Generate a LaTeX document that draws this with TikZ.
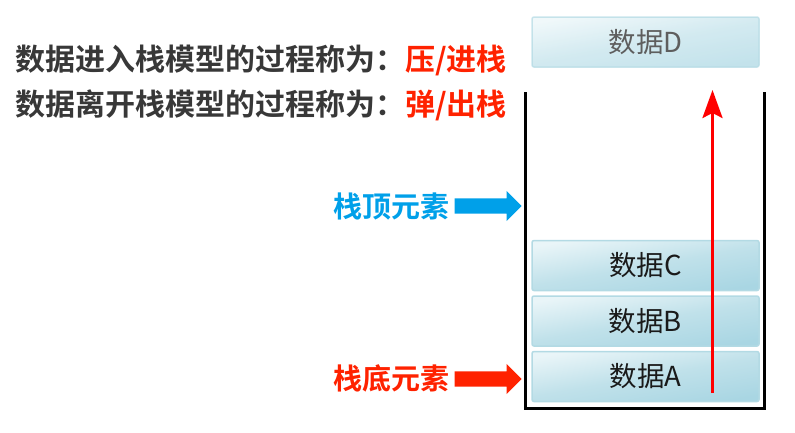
\documentclass[tikz,border=0pt]{standalone}
\usepackage{fontspec}
\setmainfont{Noto Sans CJK SC}[BoldFont={Noto Sans CJK SC Bold}]
\usetikzlibrary{shapes.arrows,arrows.meta}
\definecolor{tipblue}{HTML}{00A0E9}
\definecolor{hotred}{HTML}{FF2200}
\definecolor{popred}{HTML}{FF0000}
\definecolor{headgray}{HTML}{383838}
\definecolor{boxlight}{HTML}{E9F5F8}
\definecolor{boxmid}{HTML}{C0E1EA}
\definecolor{boxdark}{HTML}{A9D6E3}
\definecolor{boxedge}{HTML}{B3DAE4}
\definecolor{boxtext}{HTML}{1A1A1A}
\definecolor{fadetext}{HTML}{5E5E5E}
\begin{document}
\begin{tikzpicture}[x=1pt,y=-1pt]
\useasboundingbox (0,0) rectangle (795,432);
\tikzset{
  databox/.style={minimum width=227pt, minimum height=50pt, rounded corners=2pt,
    draw=boxedge, line width=1.5pt, top color=boxlight, bottom color=boxdark, middle color=boxmid,
    shading angle=10, font=\fontsize{27.5}{27.5}\selectfont, text=boxtext, inner sep=0pt},
  headline/.style={font=\fontsize{30}{30}\selectfont\bfseries, text=headgray, inner sep=0pt, anchor=west},
  sidelabel/.style={font=\fontsize{29}{29}\selectfont\bfseries, inner sep=0pt, anchor=east},
  blockarrow/.style={single arrow, draw=none, minimum height=67pt,
    single arrow head extend=7.5pt, inner xsep=0pt, inner ysep=7.5pt, anchor=tip},
  wall/.style={line width=3pt, draw=black},
}
% headlines
\node[headline] (l1) at (15,60) {数据进入栈模型的过程称为：\textcolor{hotred}{压/进栈}};
\node[headline] (l2) at (15,105) {数据离开栈模型的过程称为：\textcolor{hotred}{弹/出栈}};
% container
\coordinate (wtl) at (525,92);
\coordinate (wbl) at (525,408);
\coordinate (wbr) at (764,408);
\coordinate (wtr) at (764,92);
\draw[wall] (wtl) -- (wbl) -- (wbr) -- (wtr);
% data boxes
\node[databox] (dA) at (645.5,376.5) {数据A};
\node[databox] (dB) at (645.5,321) {数据B};
\node[databox] (dC) at (645.5,265.5) {数据C};
\node[databox, opacity=0.7, text opacity=1, text=fadetext] (dD) at (645.5,42) {数据D};
% pop arrow
\coordinate (popStart) at (712.5,393);
\coordinate (popEnd) at (712.5,90);
\draw[popred, line width=3pt, -{Stealth[length=28pt,width=20pt,inset=5pt]}] (popStart) -- (popEnd);
% side labels
\node[sidelabel, text=tipblue] (topLbl) at (450,206) {栈顶元素};
\node[sidelabel, text=hotred] (botLbl) at (450,378) {栈底元素};
\node[blockarrow, fill=tipblue] (topArrow) at (522,206) {};
\node[blockarrow, fill=hotred] (botArrow) at (522,379) {};
\end{tikzpicture}
\end{document}
